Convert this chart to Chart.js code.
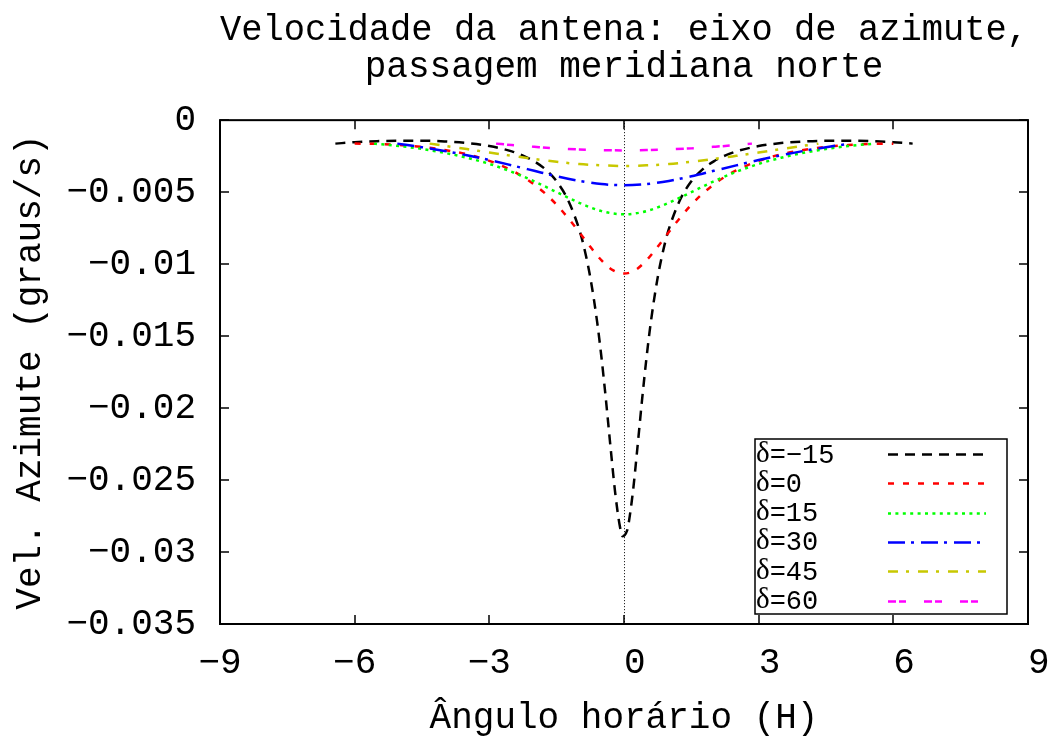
<!DOCTYPE html>
<html>
<head>
<meta charset="utf-8">
<script src="https://cdn.jsdelivr.net/npm/chart.js@4.4.0/dist/chart.umd.min.js"></script>
<style>
html,body{margin:0;padding:0;background:#fff;}
#wrap{width:1053px;height:736px;}
</style>
</head>
<body>
<div id="wrap"><canvas id="c" width="1053" height="736"></canvas></div>
<script>
// ---------- texts ----------
const TITLE_LINES = ['Velocidade da antena: eixo de azimute,', 'passagem meridiana norte'];
const X_TITLE = 'Ângulo horário (H)';
const Y_TITLE = 'Vel. Azimute (graus/s)';

// ---------- ticks ----------
const X_TICK_VALUES = [-9, -6, -3, 0, 3, 6, 9];
const X_TICK_LABELS = ['−9', '−6', '−3', ' 0', ' 3', ' 6', ' 9'];
const Y_TICK_VALUES = [-0.035, -0.03, -0.025, -0.02, -0.015, -0.01, -0.005, 0];
const Y_TICK_LABELS = ['−0.035', '−0.03', '−0.025', '−0.02', '−0.015', '−0.01', '−0.005', '0'];

// ---------- series ----------
const SERIES_LABELS = ['δ=−15', 'δ=0', 'δ=15', 'δ=30', 'δ=45', 'δ=60'];

const H_DEC_M15 = [-6.43,-6,-5.5,-5,-4.5,-4,-3.5,-3,-2.5,-2.25,-2,-1.75,-1.5,-1.25,-1,-0.9,-0.75,-0.6,-0.5,-0.4,-0.3,-0.2,-0.1,-0.03,
                   0.07,0.1,0.2,0.3,0.4,0.5,0.6,0.75,0.9,1,1.25,1.5,1.75,2,2.25,2.5,3,3.5,4,4.5,5,5.5,6,6.43];
const V_DEC_M15 = [-0.00163,-0.00153,-0.00146,-0.00143,-0.00143,-0.00148,-0.00159,-0.00180,-0.00217,-0.00246,-0.00286,-0.00342,-0.00425,-0.00553,-0.00756,-0.00870,-0.01094,-0.01398,-0.01654,-0.01950,-0.02272,-0.02578,-0.02807,-0.0289,
                   -0.0285,-0.02807,-0.02578,-0.02272,-0.01950,-0.01654,-0.01398,-0.01094,-0.00870,-0.00756,-0.00553,-0.00425,-0.00342,-0.00286,-0.00246,-0.00217,-0.00180,-0.00159,-0.00148,-0.00143,-0.00143,-0.00146,-0.00153,-0.00163];

const H_DEC_0 = [-6,-5.5,-5,-4.5,-4,-3.5,-3,-2.5,-2.25,-2,-1.75,-1.5,-1.25,-1,-0.75,-0.5,-0.25,0,
                 0.25,0.5,0.75,1,1.25,1.5,1.75,2,2.25,2.5,3,3.5,4,4.5,5,5.5,6];
const V_DEC_0 = [-0.00163,-0.00165,-0.00173,-0.00186,-0.00207,-0.00237,-0.00283,-0.00349,-0.00393,-0.00447,-0.00511,-0.00588,-0.00678,-0.00777,-0.00880,-0.00974,-0.01042,-0.01066,
                 -0.01042,-0.00974,-0.00880,-0.00777,-0.00678,-0.00588,-0.00511,-0.00447,-0.00393,-0.00349,-0.00283,-0.00237,-0.00207,-0.00186,-0.00173,-0.00165,-0.00163];

const H_DEC_15 = [-5.57,-5,-4.5,-4,-3.5,-3,-2.5,-2,-1.5,-1,-0.75,-0.5,-0.25,0,0.25,0.5,0.75,1,1.5,2,2.5,3,3.5,4,4.5,5,5.57];
const V_DEC_15 = [-0.00163,-0.00180,-0.00200,-0.00227,-0.00261,-0.00304,-0.00359,-0.00425,-0.00500,-0.00574,-0.00606,-0.00632,-0.00648,-0.00654,
                  -0.00648,-0.00632,-0.00606,-0.00574,-0.00500,-0.00425,-0.00359,-0.00304,-0.00261,-0.00227,-0.00200,-0.00180,-0.00163];

const H_DEC_30 = [-5.05,-4.5,-4,-3.5,-3,-2.5,-2,-1.5,-1,-0.5,0,0.5,1,1.5,2,2.5,3,3.5,4,4.5,5.05];
const V_DEC_30 = [-0.00163,-0.00188,-0.00214,-0.00244,-0.00277,-0.00314,-0.00352,-0.00390,-0.00422,-0.00444,-0.00452,
                  -0.00444,-0.00422,-0.00390,-0.00352,-0.00314,-0.00277,-0.00244,-0.00214,-0.00188,-0.00163];

const H_DEC_45 = [-4.33,-4,-3.5,-3,-2.5,-2,-1.5,-1,-0.5,0,0.5,1,1.5,2,2.5,3,3.5,4,4.33];
const V_DEC_45 = [-0.00163,-0.00178,-0.00201,-0.00225,-0.00248,-0.00270,-0.00289,-0.00305,-0.00314,-0.00318,
                  -0.00314,-0.00305,-0.00289,-0.00270,-0.00248,-0.00225,-0.00201,-0.00178,-0.00163];

const H_DEC_60 = [-2.85,-2.5,-2,-1.5,-1,-0.5,0,0.5,1,1.5,2,2.5,2.85];
const V_DEC_60 = [-0.00163,-0.00173,-0.00185,-0.00196,-0.00203,-0.00208,-0.00210,-0.00208,-0.00203,-0.00196,-0.00185,-0.00173,-0.00163];

// ---------- styles ----------
const SERIES_H = [H_DEC_M15, H_DEC_0, H_DEC_15, H_DEC_30, H_DEC_45, H_DEC_60];
const SERIES_V = [V_DEC_M15, V_DEC_0, V_DEC_15, V_DEC_30, V_DEC_45, V_DEC_60];
const SERIES_COLORS = ['#000000', '#ff0000', '#00ff00', '#0000ff', '#c8c800', '#ff00ff'];
const SERIES_DASHES = [[10,7], [6,9], [3,4.4], [17,6,3,7], [10,8,3,9], [8,3,7,18]];

const MONO = '"Liberation Mono", "DejaVu Sans Mono", monospace';

function labelFor(values, labels, v) {
  for (let i = 0; i < values.length; i++) {
    if (Math.abs(values[i] - v) < 1e-9) return labels[i];
  }
  return '';
}

const datasets = SERIES_LABELS.map((lab, i) => ({
  label: lab,
  data: SERIES_H[i].map((h, k) => ({x: h, y: SERIES_V[i][k]})),
  borderColor: SERIES_COLORS[i],
  backgroundColor: SERIES_COLORS[i],
  borderWidth: 2.5,
  borderDash: SERIES_DASHES[i],
  pointRadius: 0,
  fill: false,
  cubicInterpolationMode: 'monotone',
  order: SERIES_LABELS.length - i
}));

const framePlugin = {
  id: 'gnuframe',
  beforeDatasetsDraw(chart) {
    const {ctx, chartArea: a, scales: {x}} = chart;
    const x0 = Math.round(x.getPixelForValue(0)) + 0.5;
    ctx.save();
    ctx.strokeStyle = '#000';
    ctx.lineWidth = 1;
    ctx.setLineDash([1, 2]);
    ctx.beginPath();
    ctx.moveTo(x0, a.top);
    ctx.lineTo(x0, a.bottom);
    ctx.stroke();
    ctx.restore();
  },
  afterDatasetsDraw(chart) {
    const {ctx, chartArea: a, scales: {x, y}} = chart;
    ctx.save();
    ctx.setLineDash([]);
    ctx.strokeStyle = '#000';
    // inward mirrored ticks
    const tl = 9;
    ctx.lineWidth = 1.5;
    ctx.beginPath();
    x.ticks.forEach(t => {
      const px = Math.round(x.getPixelForValue(t.value));
      ctx.moveTo(px, a.bottom); ctx.lineTo(px, a.bottom - tl);
      ctx.moveTo(px, a.top); ctx.lineTo(px, a.top + tl);
    });
    y.ticks.forEach(t => {
      const py = Math.round(y.getPixelForValue(t.value));
      ctx.moveTo(a.left, py); ctx.lineTo(a.left + tl, py);
      ctx.moveTo(a.right, py); ctx.lineTo(a.right - tl, py);
    });
    ctx.stroke();
    // border
    ctx.lineWidth = 2;
    ctx.strokeRect(a.left, a.top, a.right - a.left, a.bottom - a.top);

    // key box
    const bx0 = a.right - 273, bx1 = a.right - 21;
    const by0 = a.bottom - 185, by1 = a.bottom - 10;
    ctx.lineWidth = 1.5;
    ctx.strokeRect(bx0, by0, bx1 - bx0, by1 - by0);
    const rowH = 29.3;
    chart.data.datasets.forEach((ds, i) => {
      const cy = by0 + 15 + i * rowH;
      const base = cy + 8.5;
      const txt = ds.label;
      ctx.fillStyle = '#000';
      ctx.textBaseline = 'alphabetic';
      ctx.textAlign = 'left';
      ctx.font = '29px "Liberation Serif", "DejaVu Serif", serif';
      const d = txt.charAt(0);
      ctx.fillText(d, bx0 + 1, base - 1);
      const dw = ctx.measureText(d).width;
      ctx.font = '27px ' + MONO;
      ctx.fillText(txt.slice(1), bx0 + 1 + dw, base);
      // sample
      ctx.strokeStyle = ds.borderColor;
      ctx.lineWidth = ds.borderWidth;
      ctx.setLineDash(ds.borderDash);
      ctx.beginPath();
      ctx.moveTo(bx0 + 133, Math.round(cy) + 0.5);
      ctx.lineTo(bx0 + 231, Math.round(cy) + 0.5);
      ctx.stroke();
      ctx.setLineDash([]);
      ctx.strokeStyle = '#000';
    });
    ctx.restore();
  }
};

new Chart(document.getElementById('c'), {
  type: 'line',
  data: {datasets},
  plugins: [framePlugin],
  options: {
    responsive: false,
    animation: false,
    devicePixelRatio: 1,
    layout: {padding: {left: 0, right: 25, top: 0, bottom: 0}},
    plugins: {
      legend: {display: false},
      tooltip: {enabled: false},
      title: {
        display: true,
        text: TITLE_LINES,
        fullSize: false,
        color: '#000',
        font: {family: MONO, size: 36, weight: 'normal', lineHeight: 1.03},
        padding: {top: 12, bottom: 34}
      }
    },
    scales: {
      x: {
        type: 'linear',
        min: -9, max: 9,
        afterBuildTicks: s => { s.ticks = X_TICK_VALUES.map(v => ({value: v})); },
        afterFit: s => { s.height = 112; s.paddingLeft = 0; s.paddingRight = 0; },
        grid: {display: false, drawTicks: false},
        border: {display: false},
        ticks: {
          autoSkip: false, maxRotation: 0, minRotation: 0,
          padding: 18,
          color: '#000',
          font: {family: MONO, size: 36},
          callback: v => labelFor(X_TICK_VALUES, X_TICK_LABELS, v)
        },
        title: {
          display: true, text: X_TITLE, color: '#000',
          font: {family: MONO, size: 36, lineHeight: 1},
          padding: {top: 0, bottom: 0}
        }
      },
      y: {
        type: 'linear',
        min: -0.035, max: 0,
        afterBuildTicks: s => { s.ticks = Y_TICK_VALUES.map(v => ({value: v})); },
        afterFit: s => { s.width = 220; s.paddingTop = 0; s.paddingBottom = 0; },
        grid: {display: false, drawTicks: false},
        border: {display: false},
        ticks: {
          autoSkip: false,
          padding: 24,
          color: '#000',
          font: {family: MONO, size: 36},
          callback: v => labelFor(Y_TICK_VALUES, Y_TICK_LABELS, v)
        },
        title: {
          display: true, text: Y_TITLE, color: '#000',
          font: {family: MONO, size: 36, lineHeight: 1},
          padding: {top: 12, bottom: 0}
        }
      }
    }
  }
});
</script>
</body>
</html>
